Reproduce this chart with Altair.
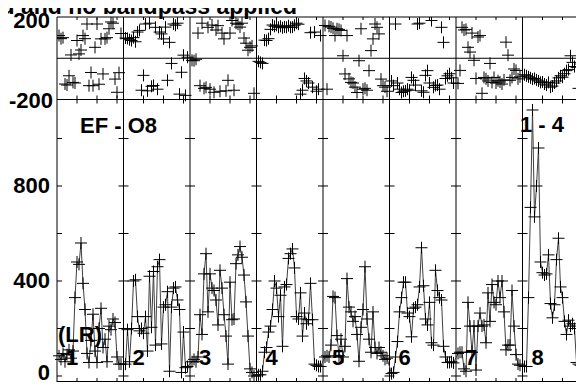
import altair as alt
import pandas as pd

# ---- text ----
title_text = "d and no bandpass applied"
baseline_label = "EF - O8"
stokes_label = "(LR)"
time_label = "1 - 4"
if_labels = ["1", "2", "3", "4", "5", "6", "7", "8"]
amp_label_values = [0, 400, 800]
amp_label_texts = ["0", "400", "800"]
amp_tick_values = [0, 200, 400, 600, 800, 1000]
phase_top_label = ["200"]
phase_bottom_label = ["-200"]

# ---- amplitude per IF (32 channels each) ----
amp_if1 = [85, 70, 95, 60, 90, 110, 75, 105, 330, 480, 470, 560, 390, 280, 95, 57,
           150, 260, 105, 57, 200, 285, 120, 155, 60, 210, 195, 240, 225, 80, 50, 50]
amp_if2 = [50, 195, 60, 200, 400, 405, 250, 190, 200, 180, 250, 105, 420, 205, 440, 130,
           460, 490, 135, 290, 300, 355, 20, 290, 370, 375, 320, 280, 15, 185, 35, 40]
amp_if3 = [60, 70, 60, 80, 258, 175, 430, 515, 270, 430, 370, 360, 320, 215, 445, 370,
           258, 168, 50, 395, 237, 240, 473, 510, 545, 500, 425, 312, 168, 30, 15, 0]
amp_if4 = [5, 5, 20, 100, 120, 185, 210, 280, 400, 370, 250, 340, 125, 375, 385, 495,
           515, 535, 455, 250, 240, 350, 168, 265, 220, 237, 390, 237, 50, 45, 40, 40]
amp_if5 = [80, 85, 80, 130, 335, 330, 170, 85, 155, 80, 125, 410, 290, 270, 230, 250,
           175, 62, 205, 280, 460, 240, 155, 100, 270, 120, 95, 120, 100, 85, 70, 75]
amp_if6 = [10, 15, 80, 145, 270, 330, 395, 395, 265, 250, 165, 285, 290, 300, 375, 540,
           380, 240, 215, 310, 140, 130, 445, 360, 330, 320, 125, 80, 57, 57, 60, 55]
amp_if7 = [95, 100, 100, 30, 20, 310, 210, 100, 210, 25, 210, 265, 210, 215, 140, 350,
           230, 385, 310, 300, 400, 330, 400, 270, 110, 130, 130, 360, 210, 90, 50, 45]
amp_if8 = [40, 40, 330, 710, 1120, 670, 800, 960, 480, 435, 425, 430, 510, 305, 245, 300,
           490, 580, 375, 330, 230, 175, 235, 210, 220, 200, 57, 50, 45, 45, 50, 45]

# ---- phase per IF ----
phase_if1 = [110, 95, 100, -125, -130, -85, 16, -117, -120, 86, 21, 40, 110, 95, 166, -133,
             -69, -133, 53, 166, -126, 94, -76, 94, 100, 143, 176, 170, -101, -165, -70, 120]
phase_if2 = [98, 96, 90, 86, 100, 80, 127, 135, -155, -83, 166, -158, 170, -136, -132, 150,
             -150, 127, 118, 94, 151, -107, 77, -25, 166, 160, 170, -174, -68, 15, -180, 5]
phase_if3 = [-10, -12, -5, 122, -133, 170, -146, -141, 150, -150, 161, -165, 137, 158, -160, 122,
             94, -158, -107, 122, 183, -155, 170, 165, 151, 170, 98, 73, 39, 53, 60, -170]
phase_if4 = [-15, -20, -25, 88, 86, 95, 140, 161, 155, 160, 150, 155, 148, 152, 150, 158,
             150, 151, 160, 170, 165, -174, -155, -98, -110, -120, 124, -140, 127, -160, -150, 110]
phase_if5 = [159, -150, 155, 151, 145, 110, 143, 140, 135, 12, -76, 110, -100, -117, -120, -140,
             -166, -12, 143, -150, -146, -155, -60, 37, 94, 166, 150, 118, -101, -133, -140, -160]
phase_if6 = [-110, -133, 166, -120, -150, -166, -160, -158, -150, -155, -93, -107, -130, 166, 170, -158,
             -165, -83, -60, -120, 183, -141, -132, -130, -150, 150, 77, -98, -85, -75, -95, -120]
phase_if7 = [-122, -59, 150, 137, 140, 53, 30, 122, -10, -98, 103, 110, -170, -93, -100, -110,
             -25, -117, -93, -120, -109, -115, -125, -105, 78, 15, -107, -93, -52, -59, -100, -90]
phase_if8 = [-80, -85, -90, -95, -101, -98, -105, -110, -117, -115, -125, -130, -117, -140, -135, -120,
             -110, -95, -85, -92, -75, -60, -55, 12, -20, -40, -44, -146, -28, -34, -30, -25]

amps = [amp_if1, amp_if2, amp_if3, amp_if4, amp_if5, amp_if6, amp_if7, amp_if8]
phases = [phase_if1, phase_if2, phase_if3, phase_if4, phase_if5, phase_if6, phase_if7, phase_if8]

N_IF = 8
PANEL = 33.25  # channel units per IF panel (incl. gap)

rows = []
for k in range(N_IF):
    for c in range(len(amps[k])):
        rows.append({"IF": k + 1, "x": PANEL * k + c + 1, "amp": amps[k][c], "phase": phases[k][c]})
df = pd.DataFrame(rows)

W, H = 519, 365
SPLIT = 82.5
xs = alt.Scale(domain=[0, W / 2], range=[0, W], nice=False, zero=False)
ps = alt.Scale(domain=[-200, 200], range=[SPLIT, 0], nice=False, zero=False)
ams = alt.Scale(domain=[-25.3, 1164.2], range=[H, SPLIT], nice=False, zero=False)

FONT = "Liberation Sans"
CROSS = "M-1,0L1,0M0,-1L0,1"

layers = []

# frame: horizontal lines
hl_phase = pd.DataFrame({"phase": [200, 0, -200]})
layers.append(alt.Chart(hl_phase).mark_rule(color="black", strokeWidth=1).encode(
    y=alt.Y("phase:Q", scale=ps, axis=None), x=alt.value(0), x2=alt.value(W)))
layers.append(alt.Chart(pd.DataFrame({"y": [0]})).mark_rule(color="black", strokeWidth=1).encode(
    y=alt.value(H - 0.5), x=alt.value(0), x2=alt.value(W)))

# separators
seps = pd.DataFrame({"x": [PANEL * k for k in range(N_IF + 1)]})
layers.append(alt.Chart(seps).mark_rule(color="black", strokeWidth=1).encode(
    x=alt.X("x:Q", scale=xs, axis=None), y=alt.value(0), y2=alt.value(H)))

# y ticks on separators (amplitude panel)
yt = []
for k in range(N_IF + 1):
    for v in amp_tick_values:
        x0 = PANEL * k - (0 if k == 0 else 2.5)
        yt.append({"x0": x0, "x1": PANEL * k + 2.5, "amp": v})
yt = pd.DataFrame(yt)
layers.append(alt.Chart(yt).mark_rule(color="black", strokeWidth=1).encode(
    x=alt.X("x0:Q", scale=xs, axis=None), x2="x1:Q",
    y=alt.Y("amp:Q", scale=ams, axis=None)))

# x ticks
xt = pd.DataFrame({"x": [PANEL * k + 10 * j for k in range(N_IF) for j in (1, 2, 3)]})
for (a, b) in [(0, 3), (SPLIT - 4, SPLIT), (SPLIT, SPLIT + 4), (H - 4, H)]:
    layers.append(alt.Chart(xt).mark_rule(color="black", strokeWidth=1).encode(
        x=alt.X("x:Q", scale=xs, axis=None), y=alt.value(a), y2=alt.value(b)))

# amplitude line + crosses
layers.append(alt.Chart(df).mark_line(color="#404040", strokeWidth=1).encode(
    x=alt.X("x:Q", scale=xs, axis=None), y=alt.Y("amp:Q", scale=ams, axis=None)))
layers.append(alt.Chart(df).mark_point(shape=CROSS, filled=False, size=144, color="black",
                                       strokeWidth=1, opacity=1).encode(
    x=alt.X("x:Q", scale=xs, axis=None), y=alt.Y("amp:Q", scale=ams, axis=None)))
# phase crosses (clipped to the plot frame)
layers.append(alt.Chart(df).mark_point(shape=CROSS, filled=False, size=144, color="black",
                                       strokeWidth=1, opacity=1, clip=True).encode(
    x=alt.X("x:Q", scale=xs, axis=None), y=alt.Y("phase:Q", scale=ps, axis=None)))

txt = dict(font=FONT, fontWeight="bold", fontSize=22, color="black")

# axis labels
al = pd.DataFrame({"amp": amp_label_values[1:], "t": amp_label_texts[1:]})
layers.append(alt.Chart(al).mark_text(align="right", baseline="alphabetic", dy=7, **txt).encode(
    x=alt.value(-7), y=alt.Y("amp:Q", scale=ams, axis=None), text="t:N"))
a0 = pd.DataFrame({"amp": amp_label_values[:1], "t": amp_label_texts[:1]})
layers.append(alt.Chart(a0).mark_text(align="right", baseline="alphabetic", dy=4, **txt).encode(
    x=alt.value(-7), y=alt.Y("amp:Q", scale=ams, axis=None), text="t:N"))
pt = pd.DataFrame({"phase": [200], "t": phase_top_label})
layers.append(alt.Chart(pt).mark_text(align="right", baseline="alphabetic", dy=11, **txt).encode(
    x=alt.value(-7), y=alt.Y("phase:Q", scale=ps, axis=None), text="t:N"))
pb = pd.DataFrame({"phase": [-200], "t": phase_bottom_label})
layers.append(alt.Chart(pb).mark_text(align="right", baseline="alphabetic", dy=8.5, **txt).encode(
    x=alt.value(-4), y=alt.Y("phase:Q", scale=ps, axis=None), text="t:N"))

# annotations
def note(text, x, y, align="left", size=22):
    d = pd.DataFrame({"t": [text]})
    t = dict(txt)
    t["fontSize"] = size
    return alt.Chart(d).mark_text(align=align, baseline="alphabetic", **t).encode(
        x=alt.value(x), y=alt.value(y), text="t:N")

layers.append(note(title_text, 240, -3, align="right", size=23))
layers.append(note(baseline_label, 23, 116))
layers.append(note(time_label, 463, 115))
layers.append(note(stokes_label, 1, 325))

ifl = pd.DataFrame({"x": [PANEL * k + 4.5 for k in range(N_IF)], "t": if_labels})
layers.append(alt.Chart(ifl).mark_text(align="left", baseline="alphabetic", **txt).encode(
    x=alt.X("x:Q", scale=xs, axis=None), y=alt.value(348), text="t:N"))

chart = alt.layer(*layers).resolve_scale(y="independent").properties(
    width=W, height=H,
    autosize=alt.AutoSizeParams(type="none"),
    padding={"left": 49, "top": 9, "right": 0, "bottom": 1},
).configure_view(stroke=None)

chart.save("out.html", embed_options={"renderer": "svg", "actions": False})
